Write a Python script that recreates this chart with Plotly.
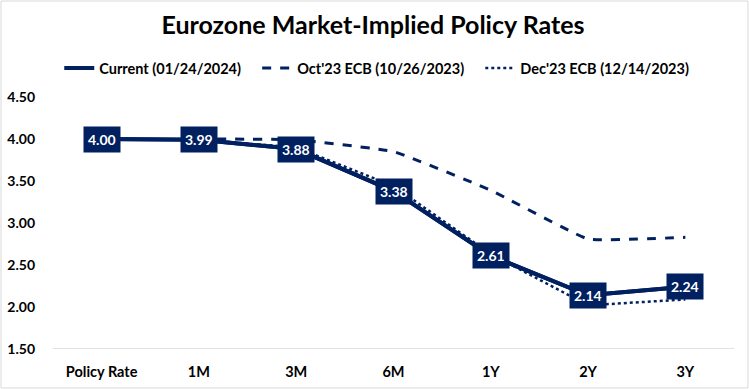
import plotly.graph_objects as go

categories = ["Policy Rate", "1M", "3M", "6M", "1Y", "2Y", "3Y"]
current = [4.00, 3.99, 3.88, 3.38, 2.61, 2.14, 2.24]
oct23 = [4.00, 4.00, 3.99, 3.85, 3.39, 2.81, 2.83]
dec23 = [4.00, 3.99, 3.90, 3.44, 2.63, 2.02, 2.09]
y_ticks = [1.5, 2.0, 2.5, 3.0, 3.5, 4.0, 4.5]

NAVY = "#002060"
FONT = "Liberation Sans Narrow, Lato, Open Sans, sans-serif"
PAD = "&nbsp;&nbsp;&nbsp;"

fig = go.Figure()
fig.add_trace(go.Scatter(x=categories, y=current, mode="lines", name="<b>Current (01/24/2024)</b>" + PAD,
                         line=dict(color=NAVY, width=4)))
fig.add_trace(go.Scatter(x=categories[1:], y=oct23[1:], mode="lines", name="<b>Oct'23 ECB (10/26/2023)</b>" + PAD,
                         line=dict(color=NAVY, width=3, dash="dash", shape="spline", smoothing=0.3)))
fig.add_trace(go.Scatter(x=categories, y=dec23, mode="lines", name="<b>Dec'23 ECB (12/14/2023)</b>",
                         line=dict(color=NAVY, width=2.5, dash="dot")))
# re-add current on top
fig.add_trace(go.Scatter(x=categories, y=current, mode="lines", showlegend=False,
                         line=dict(color=NAVY, width=4), hoverinfo="skip"))

for c, v in zip(categories, current):
    fig.add_annotation(x=c, y=v, text=f"<b>{v:.2f}</b>", showarrow=False,
                       bgcolor=NAVY, borderpad=4, font=dict(color="white", size=14, family=FONT))

fig.update_layout(
    width=749, height=389,
    margin=dict(l=53, r=15, t=97, b=40, autoexpand=False),
    paper_bgcolor="white", plot_bgcolor="white",
    title=dict(text="<b>Eurozone Market-Implied Policy Rates</b>", x=0.498, xanchor="center",
               xref="container", y=1 - 25/389, yref="container", yanchor="middle",
               font=dict(size=25, color="black", family=FONT)),
    legend=dict(orientation="h", x=0.503, xanchor="center", xref="container",
                y=1 - 68/389, yref="container", yanchor="middle",
                font=dict(size=14.5, color="black", family=FONT), itemwidth=30,
                traceorder="normal"),
    showlegend=True,
    font=dict(family=FONT),
)
fig.update_xaxes(type="category", range=[-0.5, 6.5], showgrid=False, showline=False, ticks="",
                 tickfont=dict(size=14.5, color="black", family=FONT),
                 ticklabelstandoff=12, tickprefix="<b>", ticksuffix="</b>")
fig.update_yaxes(range=[1.5, 4.5], tickvals=y_ticks, ticktext=[f"<b>{t:.2f}</b>" for t in y_ticks],
                 showgrid=False, zeroline=False, showline=False,
                 tickfont=dict(size=14, color="black", family=FONT), ticklabelstandoff=17)
# bottom axis line at 1.50
fig.add_shape(type="line", xref="paper", yref="y", x0=0, x1=1, y0=1.5, y1=1.5,
              line=dict(color="#d9d9d9", width=1.5))
# outer chart border
fig.add_shape(type="rect", xref="paper", yref="paper",
              x0=-52/681, x1=1 + 14/681, y0=-39/252, y1=1 + 96/252,
              line=dict(color="#d9d9d9", width=1))

fig.write_html("out.html", config={"displayModeBar": False},
               post_script="document.body.style.margin='0';")
